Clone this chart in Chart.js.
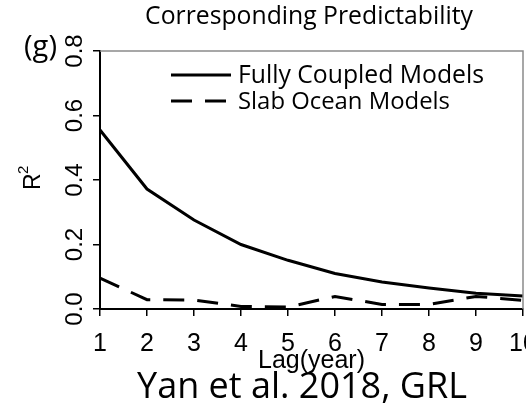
<!DOCTYPE html>
<html>
<head>
<meta charset="utf-8">
<script src="https://cdn.jsdelivr.net/npm/chart.js@4"></script>
<style>
  html, body { margin: 0; padding: 0; background: #fff; overflow: hidden; }
  #wrap { width: 526px; height: 407px; }
</style>
</head>
<body>
<div id="wrap"><canvas id="chart" width="526" height="407"></canvas></div>
<script>
  // values
  const lags = ["1", "2", "3", "4", "5", "6", "7", "8", "9", "10"];
  const coupled = [0.555, 0.372, 0.276, 0.2, 0.151, 0.11, 0.084, 0.065, 0.049, 0.04];
  const slab = [0.096, 0.029, 0.028, 0.008, 0.006, 0.039, 0.014, 0.014, 0.039, 0.027];
  const yTicks = [0, 0.2, 0.4, 0.6, 0.8];
  const seriesNames = ["Fully Coupled Models", "Slab Ocean Models"];

  const DASH = [21, 13];
  const SANS = "Arial, 'Liberation Sans', sans-serif";

  function fitText(ctx, text, family, width, x, y, align) {
    ctx.font = "100px " + family;
    const size = 100 * width / ctx.measureText(text).width;
    ctx.font = size.toFixed(2) + "px " + family;
    ctx.textAlign = align || "center";
    ctx.fillText(text, x, y);
  }

  const extras = {
    id: "extras",
    afterDraw(chart) {
      const ctx = chart.ctx;
      const area = chart.chartArea;
      const ys = chart.scales.y;
      ctx.save();

      // light frame on top and right
      ctx.strokeStyle = "#8a8a8a";
      ctx.lineWidth = 1.5;
      ctx.beginPath();
      ctx.moveTo(area.left, area.top);
      ctx.lineTo(area.right, area.top);
      ctx.lineTo(area.right, area.bottom);
      ctx.stroke();

      ctx.fillStyle = "#000";
      ctx.textBaseline = "alphabetic";
      fitText(ctx, "Corresponding Predictability", "'Open Sans', sans-serif", 328, 309, 24);
      fitText(ctx, "Yan et al. 2018, GRL", "'Open Sans', sans-serif", 330, 302, 398);
      fitText(ctx, "(g)", "'Open Sans', sans-serif", 33, 24, 56, "left");

      // rotated y tick labels
      ctx.font = "24px " + SANS;
      ctx.textAlign = "center";
      ctx.textBaseline = "middle";
      yTicks.forEach(v => {
        ctx.save();
        ctx.translate(74, ys.getPixelForValue(v));
        ctx.rotate(-Math.PI / 2);
        ctx.fillText(v.toFixed(1), 0, 1);
        ctx.restore();
      });

      // R^2 axis title
      ctx.save();
      ctx.translate(31, 182);
      ctx.rotate(-Math.PI / 2);
      ctx.textAlign = "left";
      ctx.textBaseline = "alphabetic";
      ctx.font = "23px " + SANS;
      ctx.fillText("R", -8, 9);
      ctx.font = "15px " + SANS;
      ctx.fillText("2", 8, -3);
      ctx.restore();

      // legend
      const rows = [75, 101];
      chart.data.datasets.forEach((ds, i) => {
        ctx.strokeStyle = ds.borderColor;
        ctx.lineWidth = ds.borderWidth;
        ctx.setLineDash(ds.borderDash || []);
        ctx.beginPath();
        ctx.moveTo(171, rows[i]);
        ctx.lineTo(231, rows[i]);
        ctx.stroke();
        ctx.setLineDash([]);
        ctx.fillStyle = "#000";
        ctx.textBaseline = "middle";
        const w = i === 0 ? 246 : 212;
        fitText(ctx, ds.label, "'Open Sans', sans-serif", w, 238, rows[i] + 1, "left");
      });
      ctx.restore();
    }
  };

  new Chart(document.getElementById("chart"), {
    type: "line",
    data: {
      labels: lags,
      datasets: [
        { label: seriesNames[0], data: coupled, borderColor: "#000", borderWidth: 3, pointRadius: 0, tension: 0 },
        { label: seriesNames[1], data: slab, borderColor: "#000", borderWidth: 3, borderDash: DASH, pointRadius: 0, tension: 0 }
      ]
    },
    options: {
      responsive: false,
      animation: false,
      layout: { padding: { top: 51, right: 3, left: 0, bottom: 0 } },
      plugins: { legend: { display: false }, title: { display: false }, tooltip: { enabled: false } },
      scales: {
        x: {
          type: "category",
          offset: false,
          border: { display: true, color: "#000", width: 2 },
          grid: { display: true, drawOnChartArea: false, drawTicks: true, tickLength: 7, color: "#000", lineWidth: 1.5 },
          ticks: { color: "#000", font: { family: SANS, size: 25 }, padding: 13, maxRotation: 0, autoSkip: false },
          title: { display: true, text: "Lag(year)", color: "#000", font: { family: SANS, size: 25 }, padding: { top: 0, bottom: 31 } },
          afterFit(s) { s.height = 98; s.paddingLeft = 0; s.paddingRight = 0; }
        },
        y: {
          min: 0,
          max: 0.8,
          afterBuildTicks(s) { s.ticks = yTicks.map(v => ({ value: v })); },
          border: { display: true, color: "#000", width: 2 },
          grid: { display: true, drawOnChartArea: false, drawTicks: true, tickLength: 7, color: "#000", lineWidth: 1.5 },
          ticks: { display: false },
          afterFit(s) { s.width = 100; s.paddingTop = 0; s.paddingBottom = 0; }
        }
      }
    },
    plugins: [extras]
  });
</script>
</body>
</html>
